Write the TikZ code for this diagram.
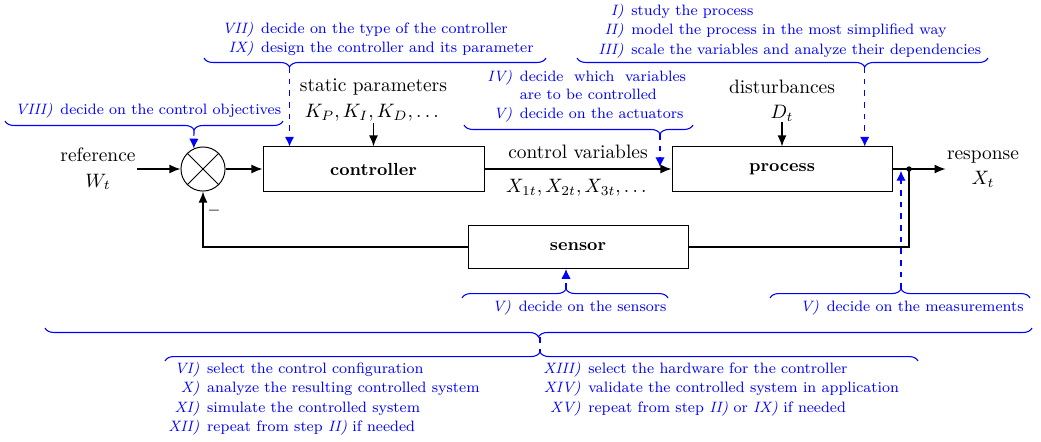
\documentclass[tikz,border=0pt]{standalone}
\usepackage{amsmath, amssymb}
\usetikzlibrary{arrows.meta, decorations.pathreplacing, positioning}

\newcommand{\rn}[1]{\textit{#1)}}
\newcommand{\notetab}[1]{\renewcommand{\arraystretch}{1.07}\begin{tabular}[t]{@{}r@{\hspace{4pt}}l@{}}#1\end{tabular}}

\tikzset{
    block/.style={draw, line width=0.5pt, minimum height=22.7pt, inner sep=0pt, font=\small\bfseries},
    sumnode/.style={draw, circle, line width=0.5pt, minimum size=22.7pt, inner sep=0pt},
    lbl/.style={inner sep=0.5pt, align=center},
    signal/.style={line width=0.7pt, -{Latex[length=5.7pt, width=4.6pt]}},
    wire/.style={line width=0.7pt},
    note/.style={text=blue, font=\fontsize{7.75pt}{9.4pt}\selectfont, inner sep=0pt, anchor=base west},
    notebrace/.style={blue, line width=0.55pt, decorate, decoration={brace, amplitude=4.6pt, #1}},
    notearrow/.style={blue, line width=0.55pt, dashed, -{Latex[length=5pt, width=4.8pt]}},
}

\begin{document}
\begin{tikzpicture}[x=0.515pt,y=0.515pt,yscale=-1,xscale=1]
    \useasboundingbox (0,0) rectangle (1041,441);

    % Blocks
    \node[sumnode] (sum) at (203,169) {};
    \draw[line width=0.5pt] (sum.45) -- (sum.225) (sum.135) -- (sum.315);
    \node[block, minimum width=113.8pt] (ctrl) at (373.5,169) {controller};
    \node[block, minimum width=113.3pt] (proc) at (782,169) {process};
    \node[block, minimum width=113.3pt, minimum height=22.2pt] (sens) at (578,247) {sensor};

    % Text Nodes
    \node[lbl] (ref) at (98,169) {reference\\[1pt]$W_t$};
    \node[lbl] (resp) at (983,169) {response\\[1pt]$X_t$};
    \node[lbl] (spar) at (373.5,87) {static parameters};
    \node[lbl] (kpar) at (373.5,113) {$K_P, K_I, K_D, \dots$};
    \node[lbl] (dist) at (782,87) {disturbances};
    \node[lbl] (dt) at (782,113) {$D_t$};
    \node[font=\footnotesize] (minus) at (214,211) {$-$};
    \coordinate (split) at (909,169);

    % Signals
    \draw[signal] (ref) -- (sum);
    \draw[signal] (sum) -- (ctrl);
    \draw[signal] (ctrl) -- node[above=1.5pt] (cvar) {control variables} node[below=1.5pt] (xvar) {$X_{1t}, X_{2t}, X_{3t}, \dots$} (proc);
    \draw[signal] (kpar) -- (ctrl);
    \draw[signal] (dt) -- (proc);
    \draw[wire] (proc) -- (split);
    \draw[signal] (split) -- (resp);
    \draw[wire] (split) |- (sens);
    \draw[signal] (sens) -| (sum);
    \fill (split) circle (1.4pt);

    % Notes
    \node[note] (n8) at (15,114) {\notetab{\rn{VIII} & decide on the control objectives}};
    \node[note] (n7) at (222,33) {\notetab{\rn{VII} & decide on the type of the controller\\
        \rn{IX} & design the controller and its parameter}};
    \node[note] (n1) at (598,15) {\notetab{\rn{I} & study the process\\
        \rn{II} & model the process in the most simplified way\\
        \rn{III} & scale the variables and analyze their dependencies}};
    \node[note] (n4) at (487,81) {\renewcommand{\arraystretch}{1.07}\begin{tabular}[t]{@{}r@{\hspace{4pt}}p{85.5pt}@{}}
        \rn{IV} & decide which variables are to be controlled\\
        \rn{V} & decide on the actuators\end{tabular}};
    \node[note] (ns) at (492,311) {\notetab{\rn{V} & decide on the sensors}};
    \node[note] (nm) at (800,311) {\notetab{\rn{V} & decide on the measurements}};
    \node[note] (nl) at (168,373) {\notetab{\rn{VI} & select the control configuration\\
        \rn{X} & analyze the resulting controlled system\\
        \rn{XI} & simulate the controlled system\\
        \rn{XII} & repeat from step \rn{II} if needed}};
    \node[note] (nr) at (543,373) {\notetab{\rn{XIII} & select the hardware for the controller\\
        \rn{XIV} & validate the controlled system in application\\
        \rn{XV} & repeat from step \rn{II} or \rn{IX} if needed}};

    % Braces
    \draw[notebrace={mirror, aspect=0.68}] (5,121) -- (283,121);
    \draw[notebrace={mirror, aspect=0.25}] (204,58) -- (546,58);
    \draw[notebrace={mirror, aspect=0.70}] (577,58) -- (988,58);
    \draw[notebrace={mirror, aspect=0.856}] (464,125) -- (693,125);
    \draw[notebrace={aspect=0.505}] (462,298) -- (668,298);
    \draw[notebrace={aspect=0.504}] (770,298) -- (1030,298);
    \draw[notebrace={mirror, aspect=0.50}] (45,328) -- (1032,328);
    \draw[notebrace={aspect=0.498}] (165,361) -- (918,361);
    \coordinate (t8) at (194,130);
    \coordinate (t7) at (289.5,67);
    \coordinate (t1) at (864.7,67);
    \coordinate (t4) at (660,134);
    \coordinate (ts) at (566,289);
    \coordinate (tm) at (901,289);
    \coordinate (tb) at (540,337);
    \coordinate (tl) at (540,352);

    % Note arrows
    \draw[notearrow] (t8) -- (sum.114);
    \draw[notearrow] (t7) -- (t7 |- ctrl.north);
    \draw[notearrow] (t1) -- (t1 |- proc.north);
    \draw[notearrow, shorten >=1pt] (t4) -- (t4 |- ctrl.east);
    \draw[notearrow] (ts) -- (ts |- sens.south);
    \draw[notearrow, shorten >=1pt] (tm) -- (tm |- split);
    \draw[blue, line width=0.55pt, dashed] (tb) -- (tl);
\end{tikzpicture}
\end{document}
